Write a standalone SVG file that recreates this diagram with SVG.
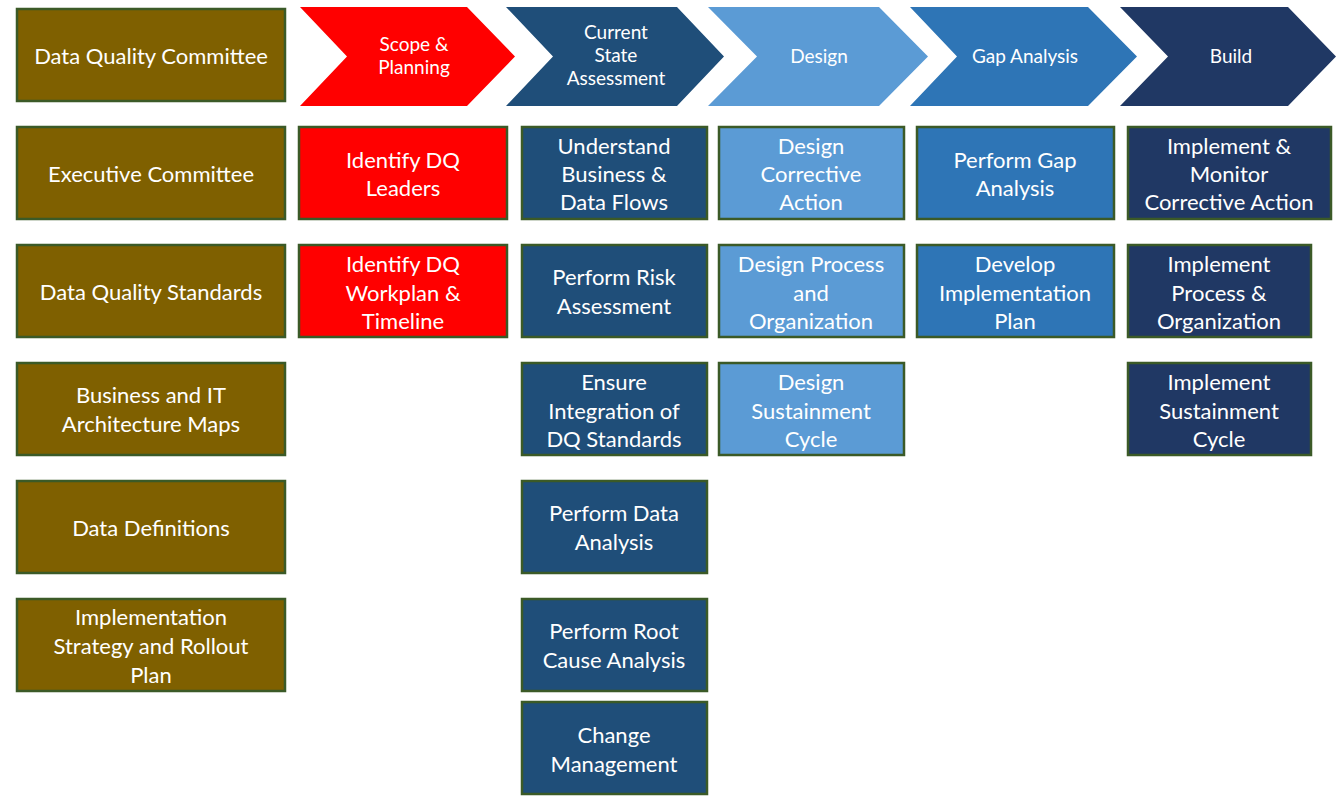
<svg xmlns="http://www.w3.org/2000/svg" width="1336" height="801" viewBox="0 0 1336 801">
<style>
g rect{stroke:#3b5a27;stroke-width:2.5}
.ol{fill:#7f6000}.rd{fill:#ff0000}.db{fill:#1f4e79}.lb{fill:#5b9bd5}.mb{fill:#2e75b6}.nv{fill:#203864}
text{font-family:Lato,"Open Sans","Liberation Sans",sans-serif;fill:#ffffff;text-anchor:middle}
.t{font-size:22px}
.c{font-size:19px}
</style>
<rect width="1336" height="801" fill="#ffffff"/>
<g id="phases">
<g id="ph-scope"><polygon class="rd" points="300,7 467,7 515,56.5 467,106 300,106 347,56.5"/><text class="c" x="414" y="51">Scope &amp;</text><text class="c" x="414" y="74">Planning</text></g>
<g id="ph-current"><polygon class="db" points="506,7 677,7 724,56.5 677,106 506,106 553,56.5"/><text class="c" x="616" y="39">Current</text><text class="c" x="616" y="62">State</text><text class="c" x="616" y="85">Assessment</text></g>
<g id="ph-design"><polygon class="lb" points="708,7 879,7 928,56.5 879,106 708,106 757,56.5"/><text class="c" x="819" y="63">Design</text></g>
<g id="ph-gap"><polygon class="mb" points="910,7 1088,7 1137,56.5 1088,106 910,106 957,56.5"/><text class="c" x="1025" y="63">Gap Analysis</text></g>
<g id="ph-build"><polygon class="nv" points="1120,7 1288,7 1336,56.5 1288,106 1120,106 1168,56.5"/><text class="c" x="1231" y="63">Build</text></g>
</g>
<g id="left">
<g id="l1"><rect class="ol" x="17" y="9" width="268" height="92"/><text class="t" x="151" y="64">Data Quality Committee</text></g>
<g id="l2"><rect class="ol" x="17" y="127" width="268" height="92"/><text class="t" x="151" y="182">Executive Committee</text></g>
<g id="l3"><rect class="ol" x="17" y="245" width="268" height="92"/><text class="t" x="151" y="300">Data Quality Standards</text></g>
<g id="l4"><rect class="ol" x="17" y="363" width="268" height="92"/><text class="t" x="151" y="403">Business and IT</text><text class="t" x="151" y="432">Architecture Maps</text></g>
<g id="l5"><rect class="ol" x="17" y="481" width="268" height="92"/><text class="t" x="151" y="536">Data Definitions</text></g>
<g id="l6"><rect class="ol" x="17" y="599" width="268" height="92"/><text class="t" x="151" y="625">Implementation</text><text class="t" x="151" y="654">Strategy and Rollout</text><text class="t" x="151" y="683">Plan</text></g>
</g>
<g id="scope">
<g id="s1"><rect class="rd" x="299" y="127" width="208" height="92"/><text class="t" x="403" y="168">Identify DQ</text><text class="t" x="403" y="196">Leaders</text></g>
<g id="s2"><rect class="rd" x="299" y="245" width="208" height="92"/><text class="t" x="403" y="272">Identify DQ</text><text class="t" x="403" y="301">Workplan &amp;</text><text class="t" x="403" y="329">Timeline</text></g>
</g>
<g id="current">
<g id="c1"><rect class="db" x="522" y="127" width="185" height="92"/><text class="t" x="614" y="154">Understand</text><text class="t" x="614" y="182">Business &amp;</text><text class="t" x="614" y="210">Data Flows</text></g>
<g id="c2"><rect class="db" x="522" y="245" width="185" height="92"/><text class="t" x="614" y="285">Perform Risk</text><text class="t" x="614" y="314">Assessment</text></g>
<g id="c3"><rect class="db" x="522" y="363" width="185" height="92"/><text class="t" x="614" y="390">Ensure</text><text class="t" x="614" y="419">Integration of</text><text class="t" x="614" y="447">DQ Standards</text></g>
<g id="c4"><rect class="db" x="522" y="481" width="185" height="92"/><text class="t" x="614" y="521">Perform Data</text><text class="t" x="614" y="550">Analysis</text></g>
<g id="c5"><rect class="db" x="522" y="599" width="185" height="92"/><text class="t" x="614" y="639">Perform Root</text><text class="t" x="614" y="668">Cause Analysis</text></g>
<g id="c6"><rect class="db" x="522" y="702" width="185" height="92"/><text class="t" x="614" y="743">Change</text><text class="t" x="614" y="772">Management</text></g>
</g>
<g id="design">
<g id="d1"><rect class="lb" x="719" y="127" width="185" height="92"/><text class="t" x="811" y="154">Design</text><text class="t" x="811" y="182">Corrective</text><text class="t" x="811" y="210">Action</text></g>
<g id="d2"><rect class="lb" x="719" y="245" width="185" height="92"/><text class="t" x="811" y="272">Design Process</text><text class="t" x="811" y="301">and</text><text class="t" x="811" y="329">Organization</text></g>
<g id="d3"><rect class="lb" x="719" y="363" width="185" height="92"/><text class="t" x="811" y="390">Design</text><text class="t" x="811" y="419">Sustainment</text><text class="t" x="811" y="447">Cycle</text></g>
</g>
<g id="gap">
<g id="g1"><rect class="mb" x="917" y="127" width="197" height="92"/><text class="t" x="1015" y="168">Perform Gap</text><text class="t" x="1015" y="196">Analysis</text></g>
<g id="g2"><rect class="mb" x="917" y="245" width="197" height="92"/><text class="t" x="1015" y="272">Develop</text><text class="t" x="1015" y="301">Implementation</text><text class="t" x="1015" y="329">Plan</text></g>
</g>
<g id="build">
<g id="b1"><rect class="nv" x="1128" y="127" width="203" height="92"/><text class="t" x="1229" y="154">Implement &amp;</text><text class="t" x="1229" y="182">Monitor</text><text class="t" x="1229" y="210">Corrective Action</text></g>
<g id="b2"><rect class="nv" x="1128" y="245" width="183" height="92"/><text class="t" x="1219" y="272">Implement</text><text class="t" x="1219" y="301">Process &amp;</text><text class="t" x="1219" y="329">Organization</text></g>
<g id="b3"><rect class="nv" x="1128" y="363" width="183" height="92"/><text class="t" x="1219" y="390">Implement</text><text class="t" x="1219" y="419">Sustainment</text><text class="t" x="1219" y="447">Cycle</text></g>
</g>
<g id="connectors"/>
</svg>
